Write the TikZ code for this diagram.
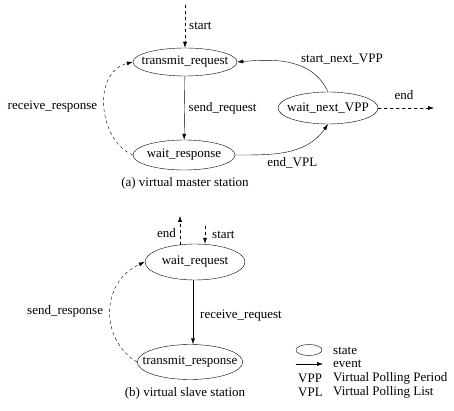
\documentclass[tikz,border=0pt]{standalone}
\usepackage{fontspec}
\setmainfont{Liberation Serif}
\usetikzlibrary{shapes.geometric,arrows.meta}
\tikzset{
  state/.style={draw, ellipse, thin, inner xsep=-10pt, inner ysep=0pt, minimum height=30pt},
  event/.style={-{Latex[length=6pt,width=4pt]}, thin},
  faint event/.style={event, dashed},
  evlabel/.style={inner sep=1pt}
}

\begin{document}
\begin{tikzpicture}[x=1pt, y=-1pt, font=\fontsize{13}{15}\selectfont, line cap=round, line join=round]
  \useasboundingbox (0,0) rectangle (454,411);

  % (a) virtual master station
  \node[state, minimum width=104pt, minimum height=28pt] (treq) at (185,62) {transmit\_request};
  \node[state, minimum width=102pt] (wresp) at (184,155) {wait\_response};
  \node[state, minimum width=100pt, minimum height=32pt] (wnext) at (328,108) {wait\_next\_VPP};
  \coordinate (astart) at (185,5);
  \coordinate (aend) at (434,108);

  \draw[faint event] (astart) -- (treq.north) node[evlabel, midway, right=3pt] {start};
  \draw[event] (treq) -- (wresp) node[evlabel, midway, right=3pt] {send\_request};
  \draw[event] (wnext.north) to[out=115, in=5] node[evlabel, pos=0.4, above right] {start\_next\_VPP} (treq.east);
  \draw[event] (wresp.east) to[out=0, in=235] node[evlabel, pos=0.55, below=6pt] {end\_VPL} (wnext.south);
  \draw[faint event] (wnext.east) -- (aend);
  \node[evlabel] (aendlbl) at (404,95) {end};
  \draw[faint event] (wresp.west) .. controls (98,140) and (92,72) .. (treq.west)
    node[evlabel, pos=0.5, left=6pt] {receive\_response};
  \node (capa) at (185,183) {(a) virtual master station};

  % (b) virtual slave station
  \node[state, minimum width=100pt, minimum height=36pt] (wreq) at (195,262) {wait\_request};
  \node[state, minimum width=104pt, minimum height=35pt] (tresp) at (190,362) {transmit\_response};
  \coordinate (bstart) at (205,226);
  \coordinate (bendtail) at (180,245);
  \coordinate (bendtip) at (180,216);

  \draw[faint event] (bstart) -- (bstart |- wreq.north) node[evlabel, midway, right=6pt] {start};
  \draw[faint event] (bendtail) -- (bendtip) node[evlabel, pos=0.4, left=3pt] {end};
  \draw[event] (wreq.south -| 193,0) -- (tresp.north -| 193,0) node[evlabel, pos=0.55, right=6pt] {receive\_request};
  \draw[faint event] (tresp.west) .. controls (100,340) and (100,282) .. (wreq.west)
    node[evlabel, pos=0.5, left=6pt] {send\_response};
  \node (capb) at (185,393) {(b) virtual slave station};

  % legend
  \node[draw, ellipse, thin, inner sep=0pt, minimum width=26pt, minimum height=11pt] (lstate) at (309,350) {};
  \node[evlabel, anchor=west] (lstatetxt) at (332,351) {state};
  \coordinate (lev1) at (296,364);
  \coordinate (lev2) at (323,364);
  \draw[event] (lev1) -- (lev2);
  \node[evlabel, anchor=west] (levtxt) at (332,364) {event};
  \node[evlabel, anchor=west] (lvpp) at (297,378) {VPP};
  \node[evlabel, anchor=west] (lvpptxt) at (332,378) {Virtual Polling Period};
  \node[evlabel, anchor=west] (lvpl) at (297,392) {VPL};
  \node[evlabel, anchor=west] (lvpltxt) at (332,392) {Virtual Polling List};
\end{tikzpicture}
\end{document}
